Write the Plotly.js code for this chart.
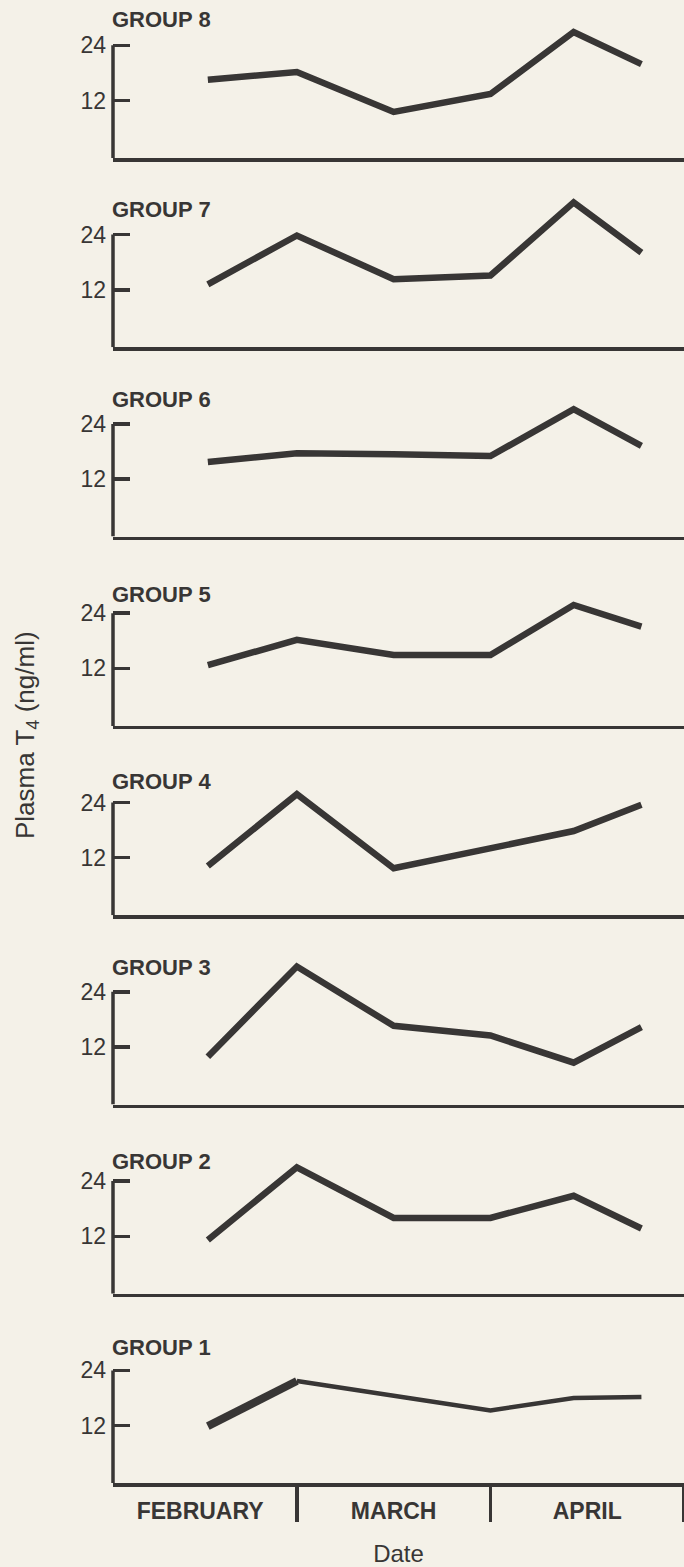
<!DOCTYPE html>
<html>
<head>
<meta charset="utf-8">
<script src="https://cdn.plot.ly/plotly-3.0.1.min.js"></script>
<style>
  html, body { margin: 0; padding: 0; background: #f4f1e8; }
  #chart { width: 684px; height: 1567px; }
</style>
</head>
<body>
<div id="chart"></div>
<script>
// ---------- data ----------
const months = ['FEBRUARY', 'MARCH', 'APRIL'];
const monthCentres = [0.5, 1.5, 2.5];          // month units (Feb = 0..1)
const monthBoundaries = [1, 2, 3];
const sampleTimes = [0.54, 1.0, 1.5, 2.0, 2.43, 2.78];
const yTickValues = [12, 24];
const groupNames = ['GROUP 1', 'GROUP 2', 'GROUP 3', 'GROUP 4',
                    'GROUP 5', 'GROUP 6', 'GROUP 7', 'GROUP 8'];

const group1 = [11.9, 21.7, 18.4, 15.3, 18.0, 18.2];
const group2 = [11.2, 27.0, 16.0, 16.0, 20.8, 13.7];
const group3 = [9.9, 29.5, 16.6, 14.5, 8.6, 16.3];
const group4 = [10.2, 25.8, 9.7, 14.0, 17.8, 23.5];
const group5 = [12.7, 18.2, 14.9, 14.9, 25.8, 21.1];
const group6 = [15.7, 17.6, 17.4, 17.0, 27.2, 19.2];
const group7 = [13.2, 23.8, 14.3, 15.1, 31.0, 20.1];
const group8 = [16.5, 18.2, 9.5, 13.4, 26.9, 19.9];
const groupValues = [group1, group2, group3, group4, group5, group6, group7, group8];

// ---------- layout / style ----------
const W = 684, H = 1567;
const INK = '#383635';
const FONT = 'Liberation Sans, Arial, Helvetica, sans-serif';
const AXIS_LEFT_PX = 113;
const FIRST_BASELINE_PX = 158;
const PANEL_STEP_PX = 189.3;
const Y_RANGE = [-0.5, 32];
const PX_PER_UNIT = 4.6;
const PANEL_H_PX = (Y_RANGE[1] - Y_RANGE[0]) * PX_PER_UNIT;
const X_RANGE = [0.05, 3.0];
const labelCentrePx = [1347, 1161, 967, 782, 594, 399, 209, 19]; // group 1..8

const traces = [];
const layout = {
  width: W, height: H,
  margin: { l: 0, r: 0, t: 0, b: 0 },
  paper_bgcolor: '#f4f1e8',
  plot_bgcolor: 'rgba(0,0,0,0)',
  showlegend: false,
  font: { family: FONT, color: INK },
  shapes: [],
  annotations: []
};

for (let g = 1; g <= 8; g++) {
  const idx = g - 1;
  const panelFromTop = 8 - g;
  const sfx = g === 1 ? '' : String(g);
  const base = FIRST_BASELINE_PX + PANEL_STEP_PX * panelFromTop;
  const top = base - PANEL_H_PX;

  const xa = {
    domain: [AXIS_LEFT_PX / W, 1],
    range: X_RANGE,
    anchor: 'y' + sfx,
    showline: true, linewidth: 3.5, linecolor: INK,
    showgrid: false, zeroline: false,
    ticks: '',
    showticklabels: false,
    fixedrange: true
  };
  if (g === 1) {
    Object.assign(xa, {
      showticklabels: true,
      tickmode: 'array',
      tickvals: monthCentres,
      ticktext: months,
      tickfont: { size: 23, family: FONT, color: INK, weight: 'bold' },
      ticklabelstandoff: 5,
      minor: {
        tickmode: 'array', tickvals: monthBoundaries,
        ticks: 'outside', ticklen: 35, tickwidth: 3.5, tickcolor: INK,
        showgrid: false
      },
      title: { text: 'Date', font: { size: 24, family: FONT, color: INK }, standoff: 24 }
    });
  }
  layout['xaxis' + sfx] = xa;

  layout['yaxis' + sfx] = {
    domain: [1 - base / H, 1 - top / H],
    range: Y_RANGE,
    anchor: 'x' + sfx,
    showline: false, showgrid: false, zeroline: false,
    tickmode: 'array', tickvals: yTickValues,
    ticks: 'inside', ticklen: 17, tickwidth: 3.5, tickcolor: INK,
    tickfont: { size: 23, family: FONT, color: INK },
    ticklabelstandoff: 6,
    fixedrange: true
  };

  // vertical axis bracket from baseline up to the 24 tick
  layout.shapes.push({
    type: 'line', xref: 'x' + sfx + ' domain', yref: 'y' + sfx,
    x0: 0, x1: 0, y0: Y_RANGE[0], y1: yTickValues[yTickValues.length - 1],
    line: { color: INK, width: 3.5 }
  });

  layout.annotations.push({
    xref: 'paper', yref: 'paper',
    x: (AXIS_LEFT_PX - 3) / W, y: 1 - labelCentrePx[idx] / H,
    xanchor: 'left', yanchor: 'middle',
    text: groupNames[idx], showarrow: false,
    font: { size: 22, family: FONT, color: INK, weight: 'bold' }
  });

  const vals = groupValues[idx];
  if (g === 1) {
    traces.push({
      x: sampleTimes.slice(0, 2), y: vals.slice(0, 2),
      xaxis: 'x' + sfx, yaxis: 'y' + sfx, mode: 'lines',
      line: { color: INK, width: 8 }, hoverinfo: 'skip'
    });
    traces.push({
      x: sampleTimes.slice(1), y: vals.slice(1),
      xaxis: 'x' + sfx, yaxis: 'y' + sfx, mode: 'lines',
      line: { color: INK, width: 4.5 }, hoverinfo: 'skip'
    });
  } else {
    traces.push({
      x: sampleTimes, y: vals,
      xaxis: 'x' + sfx, yaxis: 'y' + sfx, mode: 'lines',
      line: { color: INK, width: 6.5 }, hoverinfo: 'skip'
    });
  }
}

// rotated y-axis title
layout.annotations.push({
  xref: 'paper', yref: 'paper',
  x: 26 / W, y: 1 - 735 / H,
  xanchor: 'center', yanchor: 'middle',
  textangle: -90,
  text: 'Plasma T<sub>4</sub> (ng/ml)', showarrow: false,
  font: { size: 26, family: FONT, color: INK }
});

Plotly.newPlot('chart', traces, layout, { staticPlot: true, displayModeBar: false });
</script>
</body>
</html>
